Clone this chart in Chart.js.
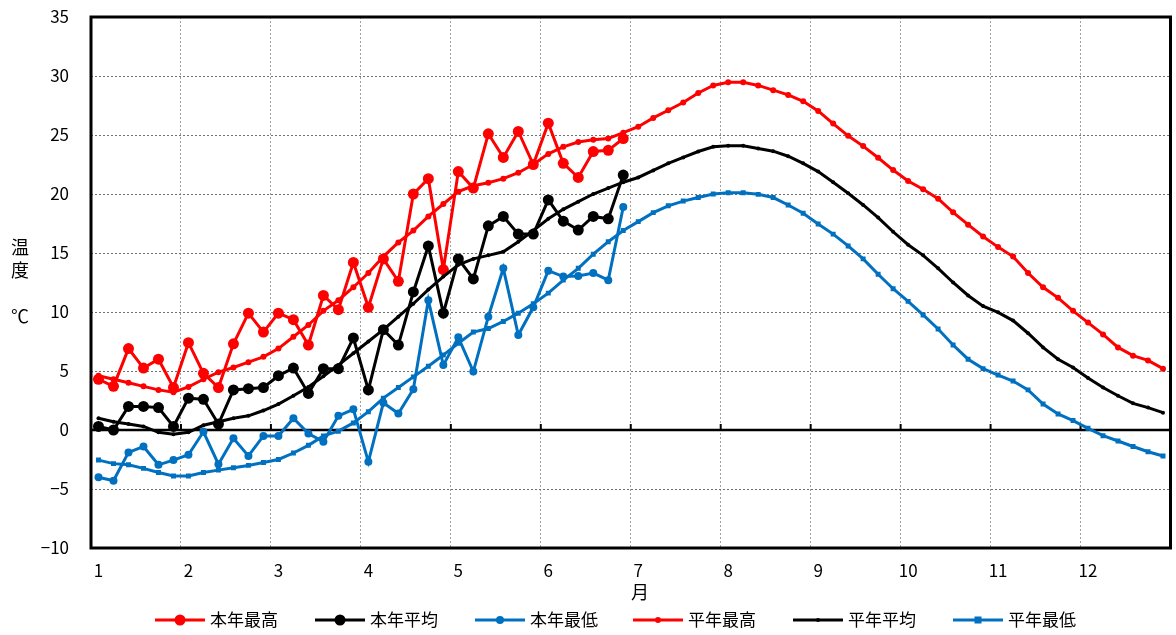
<!doctype html>
<html lang="ja">
<head>
<meta charset="utf-8">
<title>気温の推移</title>
<script src="https://cdn.jsdelivr.net/npm/chart.js"></script>
<style>
  html, body { margin: 0; padding: 0; background: #fff; }
  canvas { display: block; }
</style>
</head>
<body>
<canvas id="myChart" width="1176" height="635"></canvas>
<script>
// 半旬 (5-day) index 0..71, labels shown at the start of each month
const monthLabels = ['1', '2', '3', '4', '5', '6', '7', '8', '9', '10', '11', '12'];
const seriesNames = ['本年最高', '本年平均', '本年最低', '平年最高', '平年平均', '平年最低'];

// this year (Jan 1 .. Jun 30)
const maxThis = [4.3, 3.7, 6.9, 5.25, 6.0, 3.6, 7.4, 4.8, 3.6, 7.3, 9.9, 8.3, 9.9, 9.35, 7.2, 11.4, 10.2, 14.2,
  10.4, 14.5, 12.6, 20.0, 21.3, 13.6, 21.9, 20.5, 25.1, 23.1, 25.3, 22.5, 26.0, 22.6, 21.4, 23.6, 23.7, 24.7];
const avgThis = [0.3, 0.0, 2.0, 2.0, 1.9, 0.3, 2.7, 2.6, 0.5, 3.4, 3.5, 3.6, 4.6, 5.25, 3.1, 5.2, 5.2, 7.8,
  3.4, 8.5, 7.2, 11.7, 15.6, 9.9, 14.5, 12.8, 17.3, 18.1, 16.6, 16.6, 19.5, 17.7, 16.95, 18.1, 17.9, 21.6];
const minThis = [-4.0, -4.3, -1.9, -1.4, -2.95, -2.55, -2.1, -0.15, -2.9, -0.7, -2.2, -0.5, -0.5, 1.0, -0.3, -1.0, 1.2, 1.75,
  -2.7, 2.3, 1.4, 3.45, 11.0, 5.5, 7.85, 4.95, 9.6, 13.7, 8.05, 10.4, 13.5, 13.0, 13.05, 13.3, 12.7, 18.9];

// normals (whole year)
const maxNorm = [4.6, 4.3, 4.0, 3.7, 3.4, 3.2, 3.65, 4.3, 4.9, 5.3, 5.75, 6.2, 6.9, 7.9, 8.9, 10.1, 11.0, 12.1,
  13.3, 14.7, 15.9, 16.9, 18.1, 19.15, 20.2, 20.7, 20.95, 21.3, 21.8, 22.5, 23.4, 24.0, 24.4, 24.6, 24.7, 25.2,
  25.7, 26.45, 27.1, 27.75, 28.56, 29.2, 29.46, 29.46, 29.2, 28.8, 28.4, 27.86, 27.04, 25.97, 24.93, 24.06, 23.07, 22.03,
  21.1, 20.4, 19.6, 18.45, 17.4, 16.4, 15.5, 14.7, 13.3, 12.1, 11.2, 10.1, 9.1, 8.1, 7.0, 6.3, 5.9, 5.2];
const avgNorm = [1.0, 0.7, 0.5, 0.3, -0.2, -0.35, -0.2, 0.4, 0.7, 1.0, 1.2, 1.65, 2.2, 2.9, 3.65, 4.55, 5.5, 6.5,
  7.5, 8.5, 9.6, 10.7, 11.9, 13.0, 14.0, 14.5, 14.8, 15.1, 15.96, 16.9, 17.9, 18.7, 19.35, 20.0, 20.5, 21.0,
  21.4, 22.0, 22.6, 23.1, 23.6, 24.0, 24.08, 24.08, 23.86, 23.63, 23.2, 22.6, 21.9, 21.0, 20.06, 19.07, 18.0, 16.8,
  15.7, 14.8, 13.7, 12.5, 11.4, 10.5, 9.97, 9.27, 8.2, 7.0, 6.0, 5.3, 4.4, 3.6, 2.9, 2.26, 1.9, 1.47];
const minNorm = [-2.55, -2.85, -2.95, -3.25, -3.6, -3.9, -3.9, -3.6, -3.4, -3.2, -3.0, -2.75, -2.5, -1.95, -1.3, -0.5, -0.1, 0.6,
  1.55, 2.7, 3.6, 4.5, 5.4, 6.35, 7.35, 8.3, 8.6, 9.2, 9.9, 10.7, 11.6, 12.7, 13.7, 14.9, 15.96, 16.9,
  17.66, 18.42, 19.0, 19.4, 19.7, 20.0, 20.1, 20.1, 19.97, 19.7, 19.07, 18.37, 17.46, 16.6, 15.6, 14.5, 13.2, 11.97,
  10.9, 9.75, 8.56, 7.2, 6.0, 5.2, 4.66, 4.15, 3.4, 2.2, 1.36, 0.8, 0.14, -0.48, -0.93, -1.4, -1.84, -2.2];

const RED = '#ff0000', BLACK = '#000000', BLUE = '#0070c0';
const FONT = '"Noto Sans CJK JP", "Noto Sans", sans-serif';

const toPts = arr => arr.map((v, i) => ({ x: i, y: v }));

const styles = [
  { color: RED,   radius: 5.5, style: 'circle' },
  { color: BLACK, radius: 5.5, style: 'circle' },
  { color: BLUE,  radius: 4,   style: 'circle' },
  { color: RED,   radius: 3,   style: 'circle' },
  { color: BLACK, radius: 2,   style: 'circle' },
  { color: BLUE,  radius: 3.5, style: 'rect' },
];
const values = [maxThis, avgThis, minThis, maxNorm, avgNorm, minNorm];

const datasets = values.map((arr, k) => ({
  label: seriesNames[k],
  data: toPts(arr),
  borderColor: styles[k].color,
  backgroundColor: styles[k].color,
  borderWidth: 3,
  pointRadius: styles[k].radius,
  pointStyle: styles[k].style,
  pointBorderWidth: 0,
  tension: 0,
  order: k < 3 ? 2 : 1,
}));

// frame, zero axis, axis titles and legend
const decor = {
  id: 'decor',
  beforeDatasetsDraw(chart) {
    const { ctx, chartArea: a, scales } = chart;
    const y0 = scales.y.getPixelForValue(0);
    ctx.save();
    ctx.strokeStyle = '#000';
    ctx.lineWidth = 2.5;
    ctx.beginPath();
    ctx.moveTo(a.left, y0);
    ctx.lineTo(a.right, y0);
    ctx.stroke();
    ctx.lineWidth = 2;
    for (let m = 1; m < 12; m++) {
      const x = scales.x.getPixelForValue(m * 6 - 0.5);
      ctx.beginPath();
      ctx.moveTo(x, y0);
      ctx.lineTo(x, y0 - 6);
      ctx.stroke();
    }
    ctx.restore();
  },
  afterDatasetsDraw(chart) {
    const { ctx, chartArea: a } = chart;
    ctx.save();
    ctx.strokeStyle = '#000';
    ctx.lineWidth = 3;
    ctx.strokeRect(a.left, a.top, a.right - a.left, a.bottom - a.top);
    ctx.restore();
  },
  afterDraw(chart) {
    const { ctx } = chart;
    ctx.save();
    ctx.fillStyle = '#000';
    ctx.font = '18px ' + FONT;
    ctx.textAlign = 'center';
    ctx.textBaseline = 'middle';
    ctx.fillText('温', 20, 247);
    ctx.fillText('度', 20, 270);
    ctx.fillText('℃', 20, 316);
    ctx.fillText('月', 640, 592);

    // legend
    ctx.font = '17px ' + FONT;
    const y = 620;
    datasets.forEach((ds, k) => {
      const x = 155 + k * 160 - (k >= 3 ? 2 : 0);
      ctx.strokeStyle = ds.borderColor;
      ctx.lineWidth = 3;
      ctx.beginPath();
      ctx.moveTo(x, y);
      ctx.lineTo(x + 50, y);
      ctx.stroke();
      ctx.fillStyle = ds.borderColor;
      const r = ds.pointRadius;
      if (ds.pointStyle === 'rect') {
        ctx.fillRect(x + 25 - r, y - r, 2 * r, 2 * r);
      } else {
        ctx.beginPath();
        ctx.arc(x + 25, y, r, 0, Math.PI * 2);
        ctx.fill();
      }
      ctx.fillStyle = '#000';
      ctx.textAlign = 'left';
      ctx.fillText(ds.label, x + 55, y);
    });
    ctx.restore();
  }
};

const config = {
  type: 'line',
  data: { datasets },
  options: {
    responsive: false,
    animation: false,
    devicePixelRatio: 1,
    layout: { padding: { top: 17, right: 4, left: 0, bottom: 0 } },
    plugins: {
      legend: { display: false },
      tooltip: { enabled: false },
    },
    scales: {
      x: {
        type: 'linear',
        min: -0.5,
        max: 71.5,
        afterBuildTicks: axis => {
          axis.ticks = [];
          for (let m = 0; m <= 12; m++) axis.ticks.push({ value: m * 6 - 0.5 });
        },
        afterFit: s => {
          s.height = 87;
          s.paddingLeft = 0;
          s.paddingRight = 0;
        },
        grid: { color: '#a0a0a0', lineWidth: 1, drawTicks: false },
        border: { display: false, dash: [2, 2] },
        ticks: {
          autoSkip: false,
          maxRotation: 0,
          padding: 12,
          labelOffset: 7.5,
          color: '#000',
          font: { size: 17, family: FONT },
          callback: (v, i) => monthLabels[i] ?? '',
        },
      },
      y: {
        min: -10,
        max: 35,
        afterFit: s => {
          s.width = 91;
          s.paddingTop = 0;
          s.paddingBottom = 0;
        },
        grid: { color: '#707070', lineWidth: 1, drawTicks: false },
        border: { display: false, dash: [2, 2] },
        ticks: {
          stepSize: 5,
          padding: 22,
          color: '#000',
          font: { size: 17, family: FONT },
          callback: v => (v < 0 ? '−' + Math.abs(v) : String(v)),
        },
      },
    },
  },
  plugins: [decor],
};

new Chart(document.getElementById('myChart'), config);
</script>
</body>
</html>
